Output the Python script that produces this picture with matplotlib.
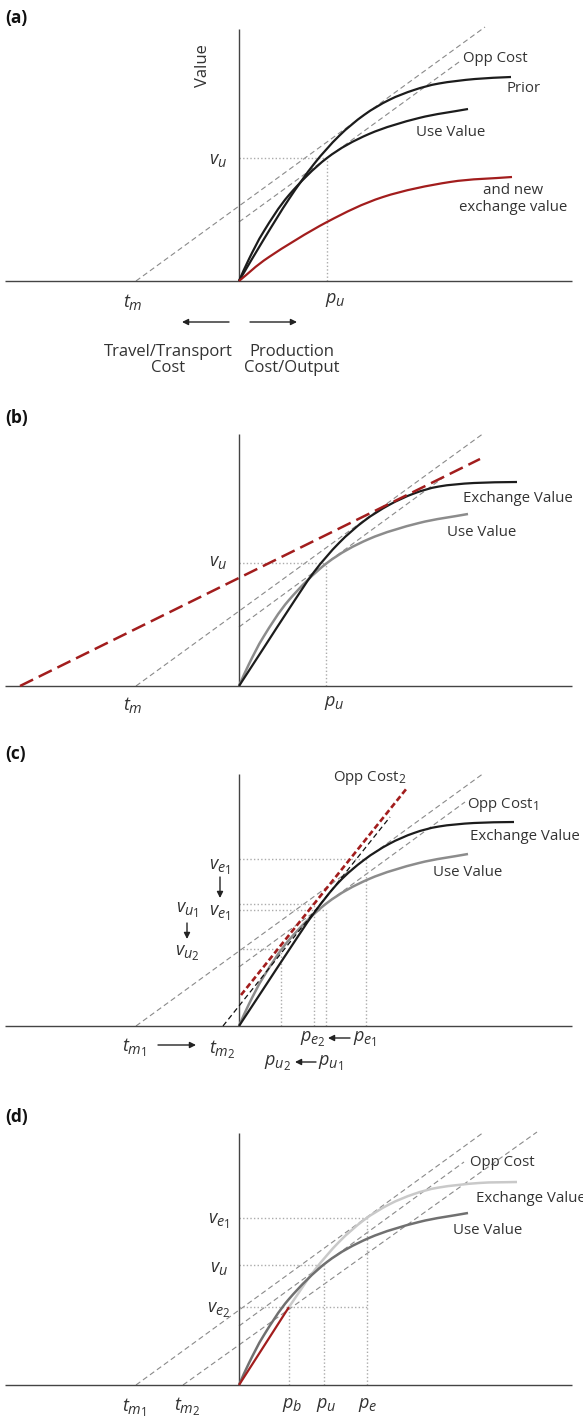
import numpy as np
import matplotlib
matplotlib.use("Agg")
import matplotlib.pyplot as plt
from matplotlib.path import Path
from matplotlib.patches import PathPatch
try:
    import matplotlib._mathtext as _mt
    _mt.SHRINK_FACTOR = 0.8
except Exception:
    pass

plt.rcParams['font.family'] = ['Open Sans', 'DejaVu Sans']
plt.rcParams['mathtext.fontset'] = 'custom'
plt.rcParams['mathtext.it'] = 'Open Sans:italic'
plt.rcParams['mathtext.rm'] = 'Open Sans'
plt.rcParams['mathtext.bf'] = 'Open Sans:bold'
plt.rcParams['lines.scale_dashes'] = False

# ---------------- data (schematic units, origin at axes crossing) ----------------
# common use-value curve
use_value_x = [0, 10, 25, 50, 88, 130, 180, 229]
use_value_y = [0, 22, 50, 86, 123, 147, 163, 172]

# panel (a)
prior_a_x = [0, 25, 50, 75, 100, 125, 150, 175, 200, 236, 272]
prior_a_y = [0, 42, 82, 117, 145, 166, 181, 191, 197.5, 202, 204]
newex_a_x = [0, 30, 88, 144, 211, 273]
newex_a_y = [0, 24, 59, 84, 99, 104]
oppline_a_x = [-103, 246]; oppline_a_y = [0, 254]
opp2_a_x = [0, 220]; opp2_a_y = [59, 219]
pu_a, vu_a = 88, 123

# panel (b)
exch_b_x = [0, 25, 50, 75, 100, 125, 150, 175, 200, 235, 278]
exch_b_y = [0, 38.5, 77, 114, 143, 165, 181, 192.5, 199.5, 203, 204]
red_b_x = [-219, 241]; red_b_y = [0, 227]
opp1_b_x = [-103, 245]; opp1_b_y = [0, 253]
opp2_b_x = [0, 205]; opp2_b_y = [59, 209]
pu_b, vu_b = 87, 123

# panel (c)
exch_c_x = [0, 25, 50, 75, 100, 125, 150, 175, 200, 235, 275]
exch_c_y = [0, 38, 76, 113, 144, 166, 182, 193, 199.5, 203, 204]
opp1_c_x = [-103, 245]; opp1_c_y = [0, 253]
opp2_c_x = [0, 226]; opp2_c_y = [59, 224]
tm2line_c_x = [-16, 151]; tm2line_c_y = [0, 209]
red_c_x = [2, 168]; red_c_y = [31, 238]
c_guides_p = [127, 75, 87, 42]      # p_e1, p_e2, p_u1, p_u2
c_guides_v = [167, 122, 116, 77]    # v_e1, v_e2, v_u1, v_u2

# panel (d)
exch_d_x = [50, 75, 100, 125, 150, 175, 200, 240, 278]
exch_d_y = [78, 114, 143, 165, 180.5, 191, 197.5, 202, 203]
red_d_x = [0, 50]; red_d_y = [0, 78]
opp1_d_x = [-103, 245]; opp1_d_y = [0, 253]
opp2_d_x = [0, 225]; opp2_d_y = [59, 223]
opp3_d_x = [-56, 298]; opp3_d_y = [0, 253]
pb_d, pu_d, pe_d = 50, 85, 128
ve2_d, vu_d, ve1_d = 78, 120, 167

# ---------------- styles ----------------
BLACK = '#1c1c1c'
RED = '#a21d1d'
GRAY = '#8c8c8c'
DGRAY = '#707070'
LGRAY = '#c9c9c9'
DASHG = '#8a8a8a'
DOTG = '#ababab'
TXT = '#333333'
AXC = '#444444'

W, H = 583, 1420
fig = plt.figure(figsize=(W / 100, H / 100), dpi=100)

def make_ax(top, bottom, origin_y):
    ax = fig.add_axes([0, 1 - bottom / H, 1, (bottom - top) / H])
    ax.set_xlim(-239, W - 239)
    ax.set_ylim(origin_y - bottom, origin_y - top)
    ax.axis('off')
    return ax

def smooth_path(xs, ys):
    p = np.column_stack([xs, ys]).astype(float)
    ext = np.vstack([2 * p[0] - p[1], p, 2 * p[-1] - p[-2]])
    verts = [p[0]]
    codes = [Path.MOVETO]
    for i in range(1, len(ext) - 2):
        p0, p1, p2, p3 = ext[i - 1], ext[i], ext[i + 1], ext[i + 2]
        verts += [p1 + (p2 - p0) / 6, p2 - (p3 - p1) / 6, p2]
        codes += [Path.CURVE4] * 3
    return Path(verts, codes)

def curve(ax, xs, ys, color, lw=1.6, z=3):
    ax.add_patch(PathPatch(smooth_path(xs, ys), fill=False, edgecolor=color,
                           lw=lw, capstyle='butt', zorder=z))

def axes_lines(ax):
    ax.plot([-234, 333], [0, 0], color=AXC, lw=1.0, zorder=2, solid_capstyle='butt')
    ax.plot([0, 0], [0, 252], color=AXC, lw=1.0, zorder=2, solid_capstyle='butt')

def gdash(ax, xs, ys, color=DASHG, lw=0.8, z=1):
    ax.plot(xs, ys, color=color, lw=lw, dashes=(3.8, 2.4), zorder=z)

def dotted(ax, xs, ys):
    ax.plot(xs, ys, color=DOTG, lw=1.0, dashes=(1.0, 1.6), zorder=1)

def guide(ax, p, v, xend=None):
    dotted(ax, [0, p if xend is None else xend], [v, v])
    dotted(ax, [p, p], [0, v])

def label(ax, x, y, s, size=10.8, ha='left', **kw):
    ax.text(x, y, s, fontsize=size, color=TXT, ha=ha, va='center', **kw)

def mlabel(ax, x, y, s, size=13):
    ax.text(x, y, s, fontsize=size, color=TXT, ha='center', va='center')

def arrow(ax, x0, y0, x1, y1):
    ax.annotate('', xy=(x1, y1), xytext=(x0, y0),
                arrowprops=dict(arrowstyle='-|>', color='#222222', lw=1.0,
                                mutation_scale=9, shrinkA=0, shrinkB=0))

def panel_letter(ax, y, s):
    ax.text(-234, y, s, fontsize=12.5, fontweight='bold', color='#111111',
            ha='left', va='center')

# ---------------- panel (a) ----------------
ax = make_ax(0, 380, 281)
axes_lines(ax)
panel_letter(ax, 263, '(a)')
gdash(ax, oppline_a_x, oppline_a_y)
gdash(ax, opp2_a_x, opp2_a_y)
guide(ax, pu_a, vu_a)
curve(ax, use_value_x, use_value_y, BLACK)
curve(ax, prior_a_x, prior_a_y, BLACK)
curve(ax, newex_a_x, newex_a_y, RED)
ax.text(-36, 215, 'Value', fontsize=12, color=TXT, rotation=90, ha='center', va='center')
mlabel(ax, -21, 121, r'$v_u$')
mlabel(ax, -106, -21, r'$t_m$')
mlabel(ax, 96, -19, r'$p_u$')
label(ax, 224, 223, 'Opp Cost')
label(ax, 267, 193, 'Prior')
label(ax, 177, 149, 'Use Value')
label(ax, 274, 82, 'and new\nexchange value', ha='center', multialignment='center',
      linespacing=1.15)
arrow(ax, -10, -41, -57, -41)
arrow(ax, 11, -41, 58, -41)
ax.text(-71, -79, 'Travel/Transport\nCost', fontsize=12, color=TXT, ha='center',
        va='center', multialignment='center', linespacing=1.05)
ax.text(53, -79, 'Production\nCost/Output', fontsize=12, color=TXT, ha='center',
        va='center', multialignment='center', linespacing=1.05)

# ---------------- panel (b) ----------------
ax = make_ax(380, 740, 686)
axes_lines(ax)
panel_letter(ax, 268, '(b)')
gdash(ax, opp1_b_x, opp1_b_y)
gdash(ax, opp2_b_x, opp2_b_y)
guide(ax, pu_b, vu_b)
curve(ax, use_value_x, use_value_y, GRAY, lw=1.8)
curve(ax, exch_b_x, exch_b_y, BLACK)
ax.plot(red_b_x, red_b_y, color=RED, lw=1.8, dashes=(10.5, 4.5), zorder=5)
mlabel(ax, -21, 124, r'$v_u$')
mlabel(ax, -106, -19, r'$t_m$')
mlabel(ax, 95, -17, r'$p_u$')
label(ax, 224, 187, 'Exchange Value')
label(ax, 208, 153, 'Use Value')

# ---------------- panel (c) ----------------
ax = make_ax(740, 1080, 1026)
axes_lines(ax)
panel_letter(ax, 272, '(c)')
gdash(ax, opp1_c_x, opp1_c_y)
gdash(ax, opp2_c_x, opp2_c_y)
for p, v in zip(c_guides_p, c_guides_v):
    guide(ax, p, v)
curve(ax, use_value_x, use_value_y, GRAY, lw=1.8)
curve(ax, exch_c_x, exch_c_y, BLACK)
gdash(ax, tm2line_c_x, tm2line_c_y, color='#111111', lw=0.9, z=4)
ax.plot(red_c_x, red_c_y, color=RED, lw=1.9, dashes=(4.2, 2.2), zorder=5)
label(ax, 94, 248, r'Opp Cost$_2$')
label(ax, 228, 221, r'Opp Cost$_1$')
label(ax, 231, 189, 'Exchange Value')
label(ax, 194, 153, 'Use Value')
mlabel(ax, -19, 159, r'$v_{e_\mathit{1}}$')
arrow(ax, -19, 149, -19, 128)
mlabel(ax, -19, 113, r'$v_{e_\mathit{1}}$')
mlabel(ax, -52, 116, r'$v_{u_\mathit{1}}$')
arrow(ax, -52, 103, -52, 87)
mlabel(ax, -52, 73, r'$v_{u_\mathit{2}}$')
mlabel(ax, -105, -22, r'$t_{m_\mathit{1}}$')
arrow(ax, -81, -19, -43, -19)
mlabel(ax, -17, -24, r'$t_{m_\mathit{2}}$')
mlabel(ax, 74, -13, r'$p_{e_\mathit{2}}$')
arrow(ax, 111, -12, 89, -12)
mlabel(ax, 126, -13, r'$p_{e_\mathit{1}}$')
mlabel(ax, 39, -37, r'$p_{u_\mathit{2}}$')
arrow(ax, 77, -36, 56, -36)
mlabel(ax, 92, -37, r'$p_{u_\mathit{1}}$')

# ---------------- panel (d) ----------------
ax = make_ax(1080, 1420, 1385)
axes_lines(ax)
panel_letter(ax, 268, '(d)')
gdash(ax, opp1_d_x, opp1_d_y)
gdash(ax, opp2_d_x, opp2_d_y)
gdash(ax, opp3_d_x, opp3_d_y)
guide(ax, pe_d, ve1_d)
guide(ax, pu_d, vu_d)
guide(ax, pb_d, ve2_d, xend=pe_d)
curve(ax, exch_d_x, exch_d_y, LGRAY, lw=1.8)
curve(ax, use_value_x, use_value_y, DGRAY, lw=1.8)
ax.plot(red_d_x, red_d_y, color=RED, lw=1.6, zorder=5, solid_capstyle='butt')
mlabel(ax, -20, 164, r'$v_{e_\mathit{1}}$')
mlabel(ax, -20, 117, r'$v_u$')
mlabel(ax, -20, 75, r'$v_{e_\mathit{2}}$')
mlabel(ax, -105, -23, r'$t_{m_\mathit{1}}$')
mlabel(ax, -52, -22, r'$t_{m_\mathit{2}}$')
mlabel(ax, 53, -20, r'$p_b$')
mlabel(ax, 87, -20, r'$p_u$')
mlabel(ax, 129, -20, r'$p_e$')
label(ax, 231, 223, 'Opp Cost')
label(ax, 237, 186, 'Exchange Value')
label(ax, 214, 155, 'Use Value')

fig.savefig('out.png', dpi=100, facecolor='white')
